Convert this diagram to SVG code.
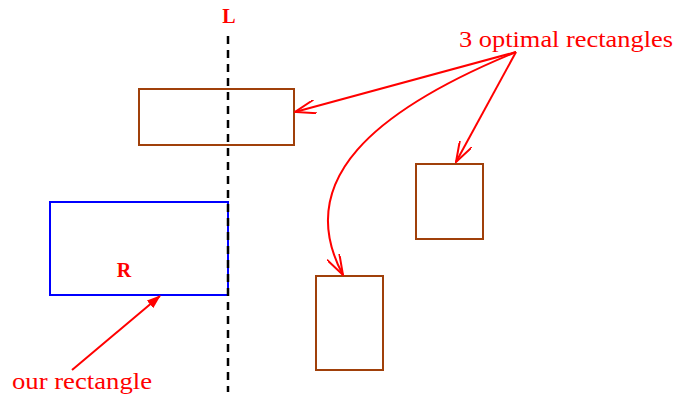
<svg xmlns="http://www.w3.org/2000/svg" width="675" height="396" viewBox="0 0 675 396">
<defs>
<style>
.opt{fill:none;stroke:#a0400a;stroke-width:2}
.lbl{font-family:"Liberation Serif","Times New Roman",serif;fill:#ff0000}
.b{font-weight:bold}
.arr{fill:none;stroke:#ff0000;stroke-width:2}
</style>
<marker id="open" viewBox="0 0 22 14" refX="21" refY="7" markerWidth="22" markerHeight="14" markerUnits="userSpaceOnUse" orient="auto">
<path d="M0,0 L21,7 L0,14" fill="none" stroke="#ff0000" stroke-width="2"/>
</marker>
<marker id="filled" viewBox="0 0 14 10" refX="13" refY="5" markerWidth="14" markerHeight="10" markerUnits="userSpaceOnUse" orient="auto">
<path d="M0,0 L14,5 L0,10 Z" fill="#ff0000"/>
</marker>
</defs>
<rect width="675" height="396" fill="#ffffff"/>
<g id="R-rect">
<rect x="50" y="202" width="178" height="93" fill="none" stroke="#0000ff" stroke-width="2"/>
<text class="lbl b" x="124" y="277" font-size="20" text-anchor="middle">R</text>
</g>
<g id="line-L">
<line x1="228" y1="36" x2="228" y2="392" stroke="#000000" stroke-width="2.5" stroke-dasharray="8,6"/>
<text class="lbl b" x="229" y="23" font-size="20" text-anchor="middle">L</text>
</g>
<g id="opt1"><rect class="opt" x="139" y="89" width="155" height="56"/></g>
<g id="opt2"><rect class="opt" x="416" y="164" width="67" height="75"/></g>
<g id="opt3"><rect class="opt" x="316" y="276" width="67" height="94"/></g>
<g id="label-opt"><text class="lbl" x="459" y="47" font-size="24" textLength="214" lengthAdjust="spacingAndGlyphs">3 optimal rectangles</text></g>
<g id="label-our"><text class="lbl" x="12" y="389" font-size="24" textLength="140" lengthAdjust="spacingAndGlyphs">our rectangle</text></g>
<g id="connectors">
<path class="arr" d="M516,52 L295,112" marker-end="url(#open)"/>
<path class="arr" d="M516,52 L456,162" marker-end="url(#open)"/>
<path class="arr" d="M516,52 C375,110 292,180 343,275" marker-end="url(#open)"/>
<path class="arr" d="M72,370 L160,296" marker-end="url(#filled)"/>
</g>
</svg>
